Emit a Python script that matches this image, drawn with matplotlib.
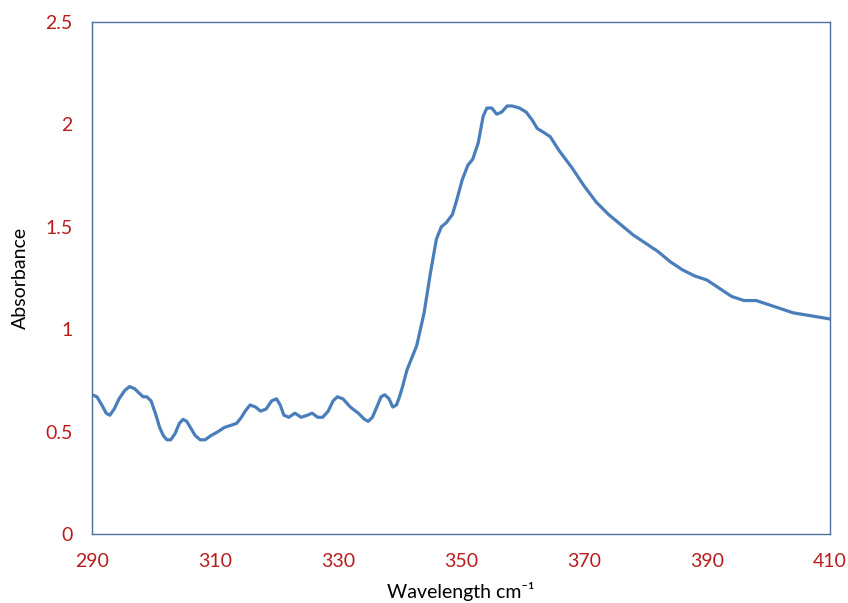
import matplotlib.pyplot as plt

wavelength = [290, 290.8, 291.6, 292.3, 292.9, 293.6, 294.4, 295.3, 296.1, 296.9, 297.6,
              298.3, 298.9, 299.6, 300.3, 301, 301.6, 302.2, 302.8, 303.5, 304.2, 304.8,
              305.4, 306, 306.8, 307.6, 308.4, 309.3, 310.5, 311.5, 312.5, 313.5, 314.3,
              314.9, 315.7, 316.6, 317.4, 318.3, 319.2, 320, 320.6, 321.2, 322, 323,
              324, 325, 325.8, 326.7, 327.5, 328.4, 329.2, 329.9, 330.8, 332, 333.3,
              334.3, 334.9, 335.6, 336.3, 337, 337.6, 338.3, 338.9, 339.5, 340, 340.5,
              341.2, 342, 342.8, 344, 345, 346, 346.8, 347.6, 348.6, 349.3, 350.2, 351.1,
              351.9, 352.8, 353.6, 354.2, 355, 355.8, 356.6, 357.5, 358.3, 359.5, 360.6,
              361.6, 362.4, 363.5, 364.5, 366, 368, 370, 372, 374, 376, 378, 380, 382,
              384, 386, 388, 390, 392, 394, 396, 398, 400, 402, 404, 406, 408, 410]
absorbance = [0.68, 0.67, 0.63, 0.59, 0.58, 0.61, 0.66, 0.70, 0.72, 0.71, 0.69,
              0.67, 0.67, 0.65, 0.59, 0.52, 0.48, 0.46, 0.46, 0.49, 0.54, 0.56,
              0.55, 0.52, 0.48, 0.46, 0.46, 0.48, 0.50, 0.52, 0.53, 0.54, 0.57,
              0.60, 0.63, 0.62, 0.60, 0.61, 0.65, 0.66, 0.63, 0.58, 0.57, 0.59,
              0.57, 0.58, 0.59, 0.57, 0.57, 0.60, 0.65, 0.67, 0.66, 0.62, 0.59,
              0.56, 0.55, 0.57, 0.62, 0.67, 0.68, 0.66, 0.62, 0.63, 0.67, 0.72,
              0.80, 0.86, 0.92, 1.08, 1.27, 1.44, 1.50, 1.52, 1.56, 1.63, 1.73, 1.80,
              1.83, 1.91, 2.04, 2.08, 2.08, 2.05, 2.06, 2.09, 2.09, 2.08, 2.06,
              2.02, 1.98, 1.96, 1.94, 1.87, 1.79, 1.70, 1.62, 1.56, 1.51, 1.46, 1.42, 1.38,
              1.33, 1.29, 1.26, 1.24, 1.20, 1.16, 1.14, 1.14, 1.12, 1.10, 1.08, 1.07, 1.06, 1.05]

x_ticks = [290, 310, 330, 350, 370, 390, 410]
y_ticks = [0, 0.5, 1, 1.5, 2, 2.5]

plt.rcParams["font.family"] = ["Lato", "DejaVu Sans"]

fig = plt.figure(figsize=(8.48, 6.03), dpi=100)
ax = fig.add_axes([0.1085, 0.1144, 0.8703, 0.8491])

ax.plot(wavelength, absorbance, color="#4a7ebb", linewidth=2.3,
        solid_joinstyle="round", solid_capstyle="round")

ax.set_xlim(290, 410)
ax.set_ylim(0, 2.5)
ax.set_xticks(x_ticks)
ax.set_xticklabels([str(t) for t in x_ticks])
ax.set_yticks(y_ticks)
ax.set_yticklabels(["0", "0.5", "1", "1.5", "2", "2.5"])
ax.tick_params(length=0, labelsize=14, labelcolor="#b81c1c")
ax.tick_params(axis="x", pad=14)
ax.tick_params(axis="y", pad=14)

for sp in ax.spines.values():
    sp.set_color("#4f6f9f")
    sp.set_linewidth(1.0)

ax.set_xlabel("Wavelength cm\u207b\u00b9", fontsize=14, labelpad=8)
ax.set_ylabel("Absorbance", fontsize=14, labelpad=12)

fig.savefig("out.png", dpi=100)
